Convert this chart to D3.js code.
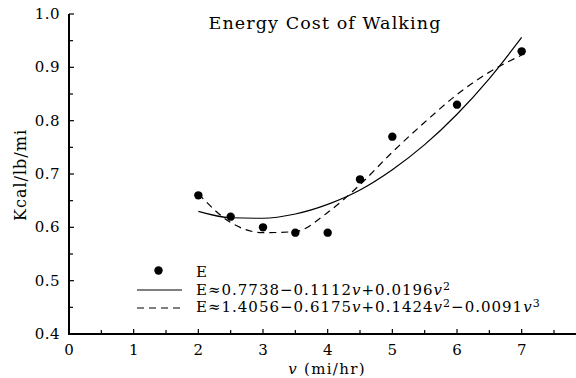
<!DOCTYPE html>
<html>
<head>
<meta charset="UTF-8">
<script src="https://d3js.org/d3.v7.min.js"></script>
<style>
  body { margin: 0; background: #fff; }
  svg { display: block; font-family: "DejaVu Serif", serif; }
  .axis-line { stroke: #000; stroke-width: 2; }
  .tick { stroke: #000; stroke-width: 1.2; }
</style>
</head>
<body>
<svg id="chart" width="576" height="378"></svg>
<script>
// measured points
const speed = [2, 2.5, 3, 3.5, 4, 4.5, 5, 6, 7];
const energy = [0.66, 0.62, 0.60, 0.59, 0.59, 0.69, 0.77, 0.83, 0.93];

// fitted curves
const fitV = [2, 2.5, 3, 3.5, 4, 4.5, 5, 5.5, 6, 6.5, 7];
const quadFit = [0.630, 0.618, 0.617, 0.625, 0.643, 0.670, 0.708, 0.755, 0.812, 0.879, 0.956];
const cubicFit = [0.663, 0.609, 0.590, 0.592, 0.628, 0.680, 0.741, 0.797, 0.849, 0.891, 0.923];

const xTicks = [0, 1, 2, 3, 4, 5, 6, 7];
const yTicks = [0.4, 0.5, 0.6, 0.7, 0.8, 0.9, 1.0];

const svg = d3.select("#chart");
const x = d3.scaleLinear().domain([0, 7.84]).range([69, 576]);
const y = d3.scaleLinear().domain([0.4, 1.0]).range([334, 14]);

// axes
svg.append("line").attr("class", "axis-line")
  .attr("x1", x(0)).attr("x2", x(0)).attr("y1", y(1.0)).attr("y2", y(0.4) + 1);
svg.append("line").attr("class", "axis-line")
  .attr("x1", x(0) - 1).attr("x2", 576).attr("y1", y(0.4)).attr("y2", y(0.4));

// y ticks (inward)
d3.range(0.4, 1.0001, 0.05).forEach((v, i) => {
  const len = i % 2 === 0 ? 5 : 4;
  svg.append("line").attr("class", "tick")
    .attr("x1", x(0)).attr("x2", x(0) + len)
    .attr("y1", y(v)).attr("y2", y(v));
});
svg.selectAll(".ylab").data(yTicks).enter().append("text")
  .attr("x", 60).attr("y", d => y(d) + 5)
  .attr("text-anchor", "end").attr("font-size", 15).attr("letter-spacing", 0.5)
  .text(d => d.toFixed(1));

// x ticks (inward)
d3.range(0, 7.51, 0.5).forEach((v, i) => {
  const len = i % 2 === 0 ? 5 : 4;
  svg.append("line").attr("class", "tick")
    .attr("x1", x(v)).attr("x2", x(v))
    .attr("y1", y(0.4)).attr("y2", y(0.4) - len);
});
svg.selectAll(".xlab").data(xTicks).enter().append("text")
  .attr("x", d => x(d)).attr("y", 355)
  .attr("text-anchor", "middle").attr("font-size", 15)
  .text(d => d);

// axis titles
const xt = svg.append("text").attr("x", 327).attr("y", 374)
  .attr("text-anchor", "middle").attr("font-size", 15).attr("letter-spacing", 1.3);
xt.append("tspan").attr("font-style", "italic").text("v");
xt.append("tspan").text(" (mi/hr)");

svg.append("text")
  .attr("transform", "translate(26,175) rotate(-90)")
  .attr("text-anchor", "middle").attr("font-size", 16).attr("letter-spacing", 1)
  .text("Kcal/lb/mi");

// title
svg.append("text").attr("x", 325).attr("y", 29)
  .attr("text-anchor", "middle").attr("font-size", 17.5).attr("letter-spacing", 1.1)
  .text("Energy Cost of Walking");

// curves
const line = d3.line().x(d => x(d[0])).y(d => y(d[1])).curve(d3.curveMonotoneX);
svg.append("path").datum(fitV.map((v, i) => [v, quadFit[i]]))
  .attr("d", line).attr("fill", "none").attr("stroke", "#000").attr("stroke-width", 1.2);
svg.append("path").datum(fitV.map((v, i) => [v, cubicFit[i]]))
  .attr("d", line).attr("fill", "none").attr("stroke", "#000").attr("stroke-width", 1.2)
  .attr("stroke-dasharray", "7,5");

// points
svg.selectAll(".pt").data(speed).enter().append("circle")
  .attr("cx", d => x(d)).attr("cy", (d, i) => y(energy[i]))
  .attr("r", 4.2).attr("fill", "#000");

// legend
const lx = 137, tx = 196;
svg.append("circle").attr("cx", 158.5).attr("cy", 270.5).attr("r", 4.2).attr("fill", "#000");
svg.append("text").attr("x", tx).attr("y", 277).attr("font-size", 15).text("E");

svg.append("line").attr("x1", lx).attr("x2", 182).attr("y1", 290).attr("y2", 290)
  .attr("stroke", "#000").attr("stroke-width", 1.2);
svg.append("line").attr("x1", lx).attr("x2", 182).attr("y1", 308).attr("y2", 308)
  .attr("stroke", "#000").attr("stroke-width", 1.2).attr("stroke-dasharray", "7,5");

function legendText(yPos, parts) {
  const t = svg.append("text").attr("x", tx).attr("y", yPos)
    .attr("font-size", 15).attr("letter-spacing", 1);
  parts.forEach(p => {
    const s = t.append("tspan").text(p.t);
    if (p.i) s.attr("font-style", "italic");
    if (p.sup) s.attr("font-size", 11).attr("dy", -5);
    if (p.down) s.attr("dy", 5);
  });
}
legendText(295, [
  {t: "E≈0.7738−0.1112"}, {t: "v", i: true}, {t: "+0.0196"}, {t: "v", i: true}, {t: "2", sup: true}
]);
legendText(312, [
  {t: "E≈1.4056−0.6175"}, {t: "v", i: true}, {t: "+0.1424"}, {t: "v", i: true}, {t: "2", sup: true},
  {t: "−0.0091", down: true}, {t: "v", i: true}, {t: "3", sup: true}
]);
</script>
</body>
</html>
